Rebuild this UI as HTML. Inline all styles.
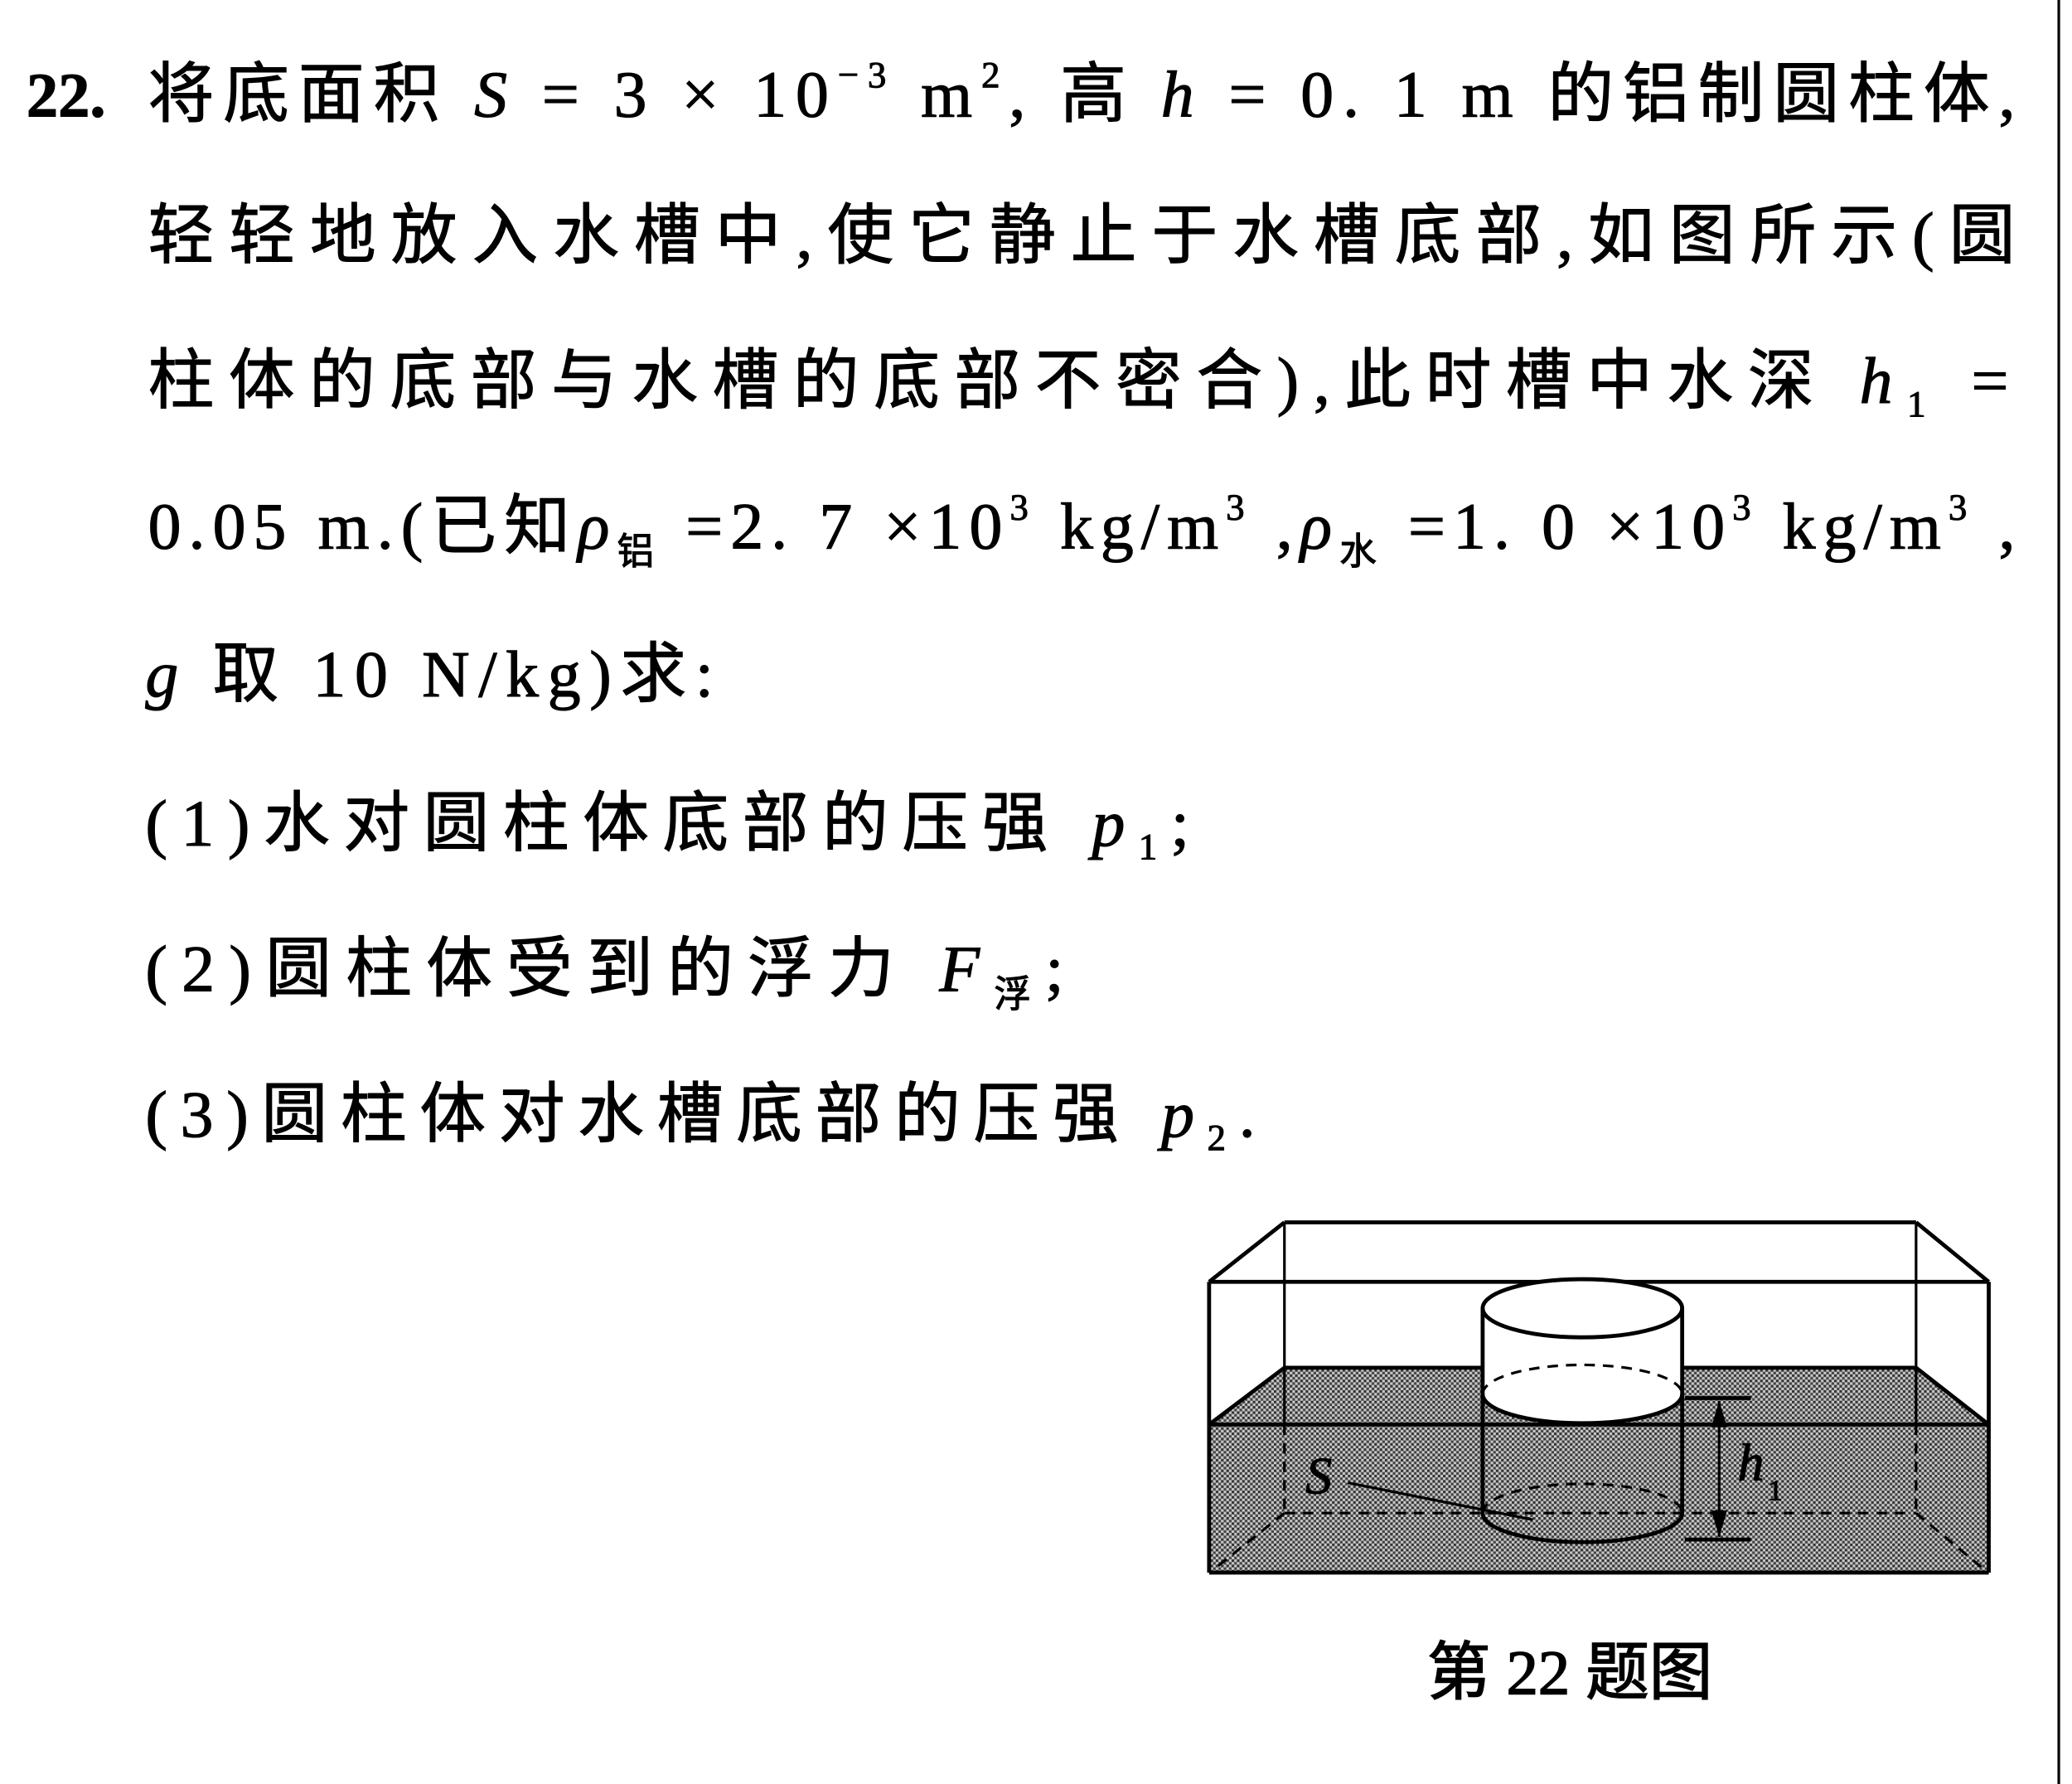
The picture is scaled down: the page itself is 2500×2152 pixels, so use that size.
<!DOCTYPE html>
<html><head><meta charset="utf-8"><style>
html,body{margin:0;padding:0;background:#fff;}
svg{display:block;}
text{font-family:"Liberation Serif","Noto Sans CJK SC","Noto Serif CJK SC",serif;fill:#000;stroke:#000;stroke-width:0.7;}
</style></head><body>
<svg width="2500" height="2152" viewBox="0 0 1568 1350" preserveAspectRatio="none" xmlns="http://www.w3.org/2000/svg">
<defs>
<pattern id="dots" width="4" height="4" patternUnits="userSpaceOnUse">
<rect width="4" height="4" fill="#c8c8c8"/>
<rect x="0" y="0" width="2" height="2" fill="#333"/>
<rect x="2" y="2" width="2" height="2" fill="#444"/>
</pattern>
</defs>
<line x1="1558" y1="0" x2="1558" y2="1350" stroke="#000" stroke-width="2"/>
<g font-size="50">
<text x="20" y="88" font-weight="bold" font-size="48">22.</text>
<text x="112" y="88" textLength="1413" lengthAdjust="spacing">将底面积 <tspan font-style="italic">S</tspan> = 3 × 10<tspan dy="-22" font-size="28">−3</tspan><tspan dy="22"> m</tspan><tspan dy="-22" font-size="28">2</tspan><tspan dy="22">, 高 </tspan><tspan font-style="italic">h</tspan> = 0. 1 m 的铝制圆柱体,</text>
<text x="112" y="195" textLength="1413" lengthAdjust="spacing">轻轻地放入水槽中,使它静止于水槽底部,如图所示(圆</text>
<text x="112" y="305" textLength="1408" lengthAdjust="spacing">柱体的底部与水槽的底部不密合),此时槽中水深 <tspan font-style="italic">h</tspan><tspan dy="10" font-size="28">1</tspan><tspan dy="-10"> =</tspan></text>
<text x="112" y="415" textLength="1413" lengthAdjust="spacing">0.05 m.(已知<tspan font-style="italic">ρ</tspan><tspan dy="12" font-size="28">铝</tspan><tspan dy="-12"> =2. 7 ×10</tspan><tspan dy="-22" font-size="28">3</tspan><tspan dy="22"> kg/m</tspan><tspan dy="-22" font-size="28">3</tspan><tspan dy="22"> ,</tspan><tspan font-style="italic">ρ</tspan><tspan dy="12" font-size="28">水</tspan><tspan dy="-12"> =1. 0 ×10</tspan><tspan dy="-22" font-size="28">3</tspan><tspan dy="22"> kg/m</tspan><tspan dy="-22" font-size="28">3</tspan><tspan dy="22"> ,</tspan></text>
<text x="110" y="527" textLength="430" lengthAdjust="spacing"><tspan font-style="italic">g</tspan> 取 10 N/kg)求:</text>
<text x="110" y="640" textLength="790" lengthAdjust="spacing">(1)水对圆柱体底部的压强 <tspan font-style="italic">p</tspan><tspan dy="10" font-size="28">1</tspan><tspan dy="-10">;</tspan></text>
<text x="110" y="750" textLength="695" lengthAdjust="spacing">(2)圆柱体受到的浮力 <tspan font-style="italic">F</tspan><tspan dy="12" font-size="28">浮</tspan><tspan dy="-12">;</tspan></text>
<text x="110" y="860" textLength="840" lengthAdjust="spacing">(3)圆柱体对水槽底部的压强 <tspan font-style="italic">p</tspan><tspan dy="10" font-size="28">2</tspan><tspan dy="-10">.</tspan></text>
</g>
<polygon points="972,1035 1450,1035 1505,1078 1505,1190 915,1190 915,1078" fill="url(#dots)"/>
<path d="M1122,990 L1122,1055 A75,22 0 0 0 1273,1055 L1273,990 Z" fill="#fff"/>
<g fill="none" stroke="#000" stroke-width="3">
<line x1="972" y1="925" x2="1450" y2="925"/>
<line x1="915" y1="970" x2="1505" y2="970"/>
<line x1="972" y1="925" x2="915" y2="970"/>
<line x1="1450" y1="925" x2="1505" y2="970"/>
<line x1="915" y1="970" x2="915" y2="1190"/>
<line x1="1505" y1="970" x2="1505" y2="1190"/>
<line x1="915" y1="1190" x2="1505" y2="1190"/>
<line x1="972" y1="925" x2="972" y2="1078" stroke-width="2"/>
<line x1="1450" y1="925" x2="1450" y2="1078" stroke-width="2"/>
<line x1="972" y1="1035" x2="1122" y2="1035"/>
<line x1="1273" y1="1035" x2="1450" y2="1035"/>
<line x1="972" y1="1035" x2="915" y2="1078"/>
<line x1="1450" y1="1035" x2="1505" y2="1078"/>
<line x1="915" y1="1078" x2="1505" y2="1078"/>
<g stroke-dasharray="8,6" stroke-width="2">
<line x1="972" y1="1078" x2="972" y2="1145"/>
<line x1="1450" y1="1078" x2="1450" y2="1145"/>
<line x1="972" y1="1145" x2="1450" y2="1145"/>
<line x1="972" y1="1145" x2="918" y2="1188"/>
<line x1="1450" y1="1145" x2="1502" y2="1188"/>
<path d="M1122,1055 A75,22 0 0 1 1273,1055"/>
<path d="M1122,1145 A75,22 0 0 1 1273,1145"/>
</g>
<ellipse cx="1197.5" cy="990" rx="75.5" ry="22" fill="#fff"/>
<line x1="1122" y1="990" x2="1122" y2="1145"/>
<line x1="1273" y1="990" x2="1273" y2="1145"/>
<path d="M1122,1055 A75.5,22 0 0 0 1273,1055"/>
<path d="M1122,1145 A75.5,22 0 0 0 1273,1145"/>
<line x1="1275" y1="1058" x2="1325" y2="1058"/>
<line x1="1275" y1="1165" x2="1325" y2="1165"/>
<line x1="1301" y1="1060" x2="1301" y2="1163" stroke-width="2"/>
<line x1="1020" y1="1122" x2="1160" y2="1150" stroke-width="2"/>
</g>
<polygon points="1301,1060 1295,1080 1307,1080" fill="#000"/>
<polygon points="1301,1163 1295,1143 1307,1143" fill="#000"/>
<text x="988" y="1130" font-size="40" font-style="italic">S</text>
<text x="1315" y="1120" font-size="40" font-style="italic">h</text>
<text x="1338" y="1135" font-size="22">1</text>
<text x="1080" y="1282" font-size="48" style="stroke-width:1">第 22 题图</text>
</svg>
</body></html>
